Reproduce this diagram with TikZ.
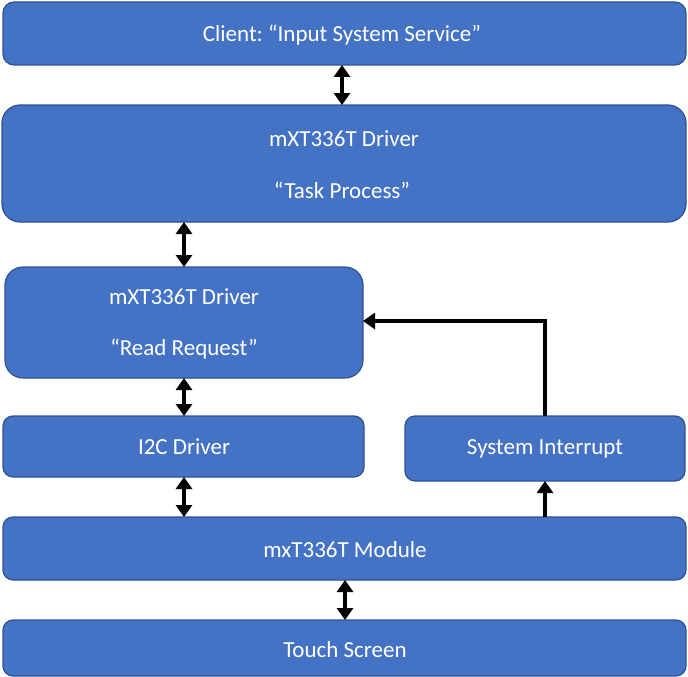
\documentclass[tikz,border=0pt]{standalone}
\usepackage{fontspec}
\setmainfont{Carlito}
\frenchspacing
\usetikzlibrary{arrows.meta}
\definecolor{boxfill}{HTML}{4472C4}
\definecolor{boxline}{HTML}{2F528F}
\begin{document}
\begin{tikzpicture}[x=1pt,y=-1pt,
  blk/.style={draw=boxline,line width=1.2pt,fill=boxfill},
  lbl/.style={text=white,font=\fontsize{23}{27}\selectfont,inner sep=0pt},
  conn/.style={line width=3.2pt,-{Triangle[width=16pt,length=12pt]}},
  dconn/.style={line width=3.2pt,{Triangle[width=16pt,length=12pt]}-{Triangle[width=16pt,length=12pt]}}]
\useasboundingbox (0,0) rectangle (688,677);
% boxes
\draw[blk,rounded corners=11pt] (3,2) rectangle (686,65);
\node[lbl] (client) at (342,35) {Client: “Input System Service”};
\draw[blk,rounded corners=18pt] (2,105) rectangle (686,222);
\node[lbl] (task1) at (344,139) {mXT336T Driver};
\node[lbl] (task2) at (342,190) {“Task Process”};
\draw[blk,rounded corners=18pt] (5,267) rectangle (363,378);
\node[lbl] (read1) at (184,297) {mXT336T Driver};
\node[lbl] (read2) at (184,349) {“Read Request”};
\draw[blk,rounded corners=10pt] (3,416) rectangle (364,477);
\node[lbl] (i2c) at (184,447) {I2C Driver};
\draw[blk,rounded corners=10pt] (405,416) rectangle (685,481);
\node[lbl] (sysint) at (545,449) {System Interrupt};
\draw[blk,rounded corners=10pt] (3,517) rectangle (686,580);
\node[lbl] (module) at (345,550) {mxT336T Module};
\draw[blk,rounded corners=10pt] (3,620) rectangle (686,676);
\node[lbl] (touch) at (345,650) {Touch Screen};
% anchor coordinates on box edges
\coordinate (cB) at (342,65); \coordinate (tT) at (342,105);
\coordinate (tB) at (184,222); \coordinate (rT) at (184,267);
\coordinate (rB) at (184,378); \coordinate (iT) at (184,416);
\coordinate (iB) at (184,477); \coordinate (mT) at (184,517);
\coordinate (mT2) at (545,517); \coordinate (sB) at (545,481);
\coordinate (sT) at (545,416); \coordinate (rR) at (363,321);
\coordinate (mB) at (345,580); \coordinate (tsT) at (345,620);
% connectors
\draw[dconn] (cB) -- (tT);
\draw[dconn] (tB) -- (rT);
\draw[dconn] (rB) -- (iT);
\draw[dconn] (iB) -- (mT);
\draw[conn] (mT2) -- (sB);
\draw[conn] (sT) |- (rR);
\draw[dconn] (mB) -- (tsT);
\end{tikzpicture}
\end{document}
